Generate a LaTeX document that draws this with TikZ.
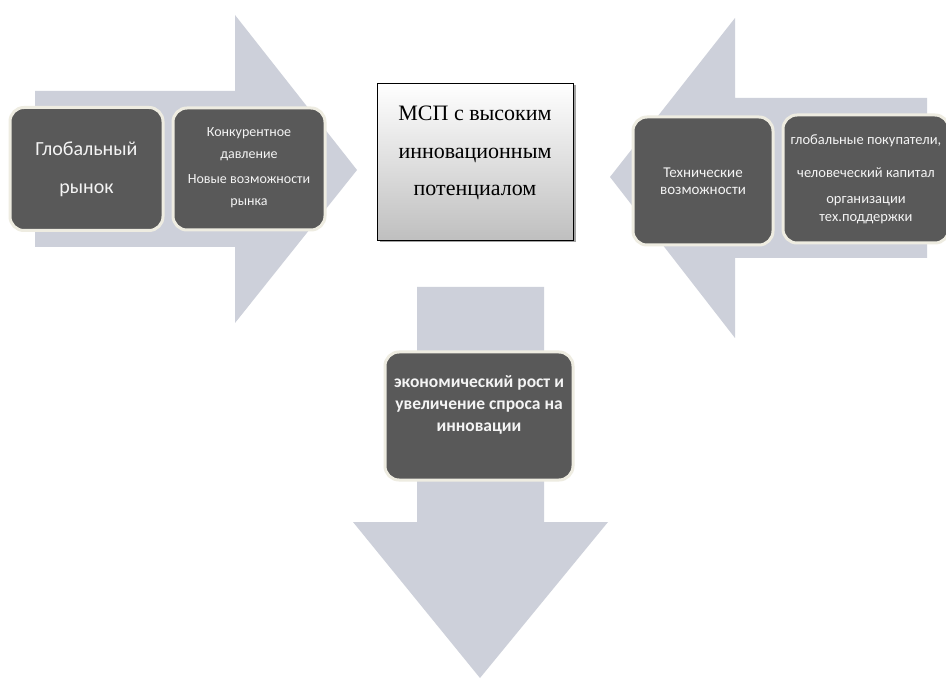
\documentclass[tikz,border=0pt]{standalone}
\usepackage{fontspec}
\setmainfont{Carlito}
\newfontfamily\serifr{Liberation Serif}
\usetikzlibrary{shadows}
\definecolor{arrowgray}{HTML}{CDD0DA}
\definecolor{boxgray}{HTML}{595959}
\definecolor{boxrim}{HTML}{EEECE1}
\definecolor{boxtext}{HTML}{F4F4F4}
\tikzset{
  darkbox/.style={rectangle, rounded corners=14pt, fill=boxgray, draw=boxrim,
    line width=3pt, text=boxtext, align=center, inner sep=2pt},
  bigarrow/.style={fill=arrowgray},
  centerbox/.style={rectangle, draw=black, line width=0.8pt, top color=white,
    bottom color=black!25, align=center, inner sep=0pt,
    drop shadow={shadow xshift=2.5pt, shadow yshift=-2.5pt, fill=black!60, opacity=0.6}},
  plaintext/.style={align=center, inner sep=0pt}
}
\begin{document}
\begin{tikzpicture}[x=1pt,y=-1pt]
\useasboundingbox (0,0) rectangle (946,679);
\clip (0,0) rectangle (946,679);
\fill[white] (0,0) rectangle (946,679);
% big arrows
\fill[bigarrow] (35,91) -- (235,91) -- (235,15) -- (357,170) -- (235,323) -- (235,247) -- (35,247) -- cycle;
\fill[bigarrow] (927,98) -- (735,98) -- (735,18) -- (610,177) -- (735,338) -- (735,258) -- (927,258) -- cycle;
\fill[bigarrow] (417,287) -- (544,287) -- (544,522) -- (608,522) -- (480,678) -- (353,522) -- (417,522) -- cycle;
% boxes
\node[darkbox, minimum width=153pt, minimum height=123pt, font=\fontsize{20}{38}\selectfont] (glob) at (86.5,169) {Глобальный\\рынок};
\node[darkbox, minimum width=152pt, minimum height=122pt] (konk) at (249,169) {};
\node[plaintext, text=boxtext, font=\fontsize{14}{22}\selectfont] (konktext) at (249,168) {Конкурентное\\давление\\[3pt]Новые возможности\\рынка};
\node[centerbox, minimum width=196pt, minimum height=157pt] (msp) at (475,161.5) {};
\node[plaintext, font=\serifr\fontsize{22}{37.5}\selectfont] (msptext) at (475,153) {МСП с высоким\\инновационным\\потенциалом};
\node[darkbox, minimum width=140pt, minimum height=128pt, font=\fontsize{15}{17}\selectfont] (tech) at (703,181) {Технические\\возможности};
\node[darkbox, minimum width=166pt, minimum height=128pt, font=\fontsize{14.5}{18}\selectfont] (glpok) at (866,179) {глобальные покупатели,\\[15pt]человеческий капитал\\[8pt]организации\\тех.поддержки};
\node[darkbox, minimum width=188pt, minimum height=128pt] (econ) at (479,416) {};
\node[plaintext, text=boxtext, font=\bfseries\fontsize{17.5}{22}\selectfont] (econtext) at (479,405) {экономический рост и\\увеличение спроса на\\инновации};
\end{tikzpicture}
\end{document}
